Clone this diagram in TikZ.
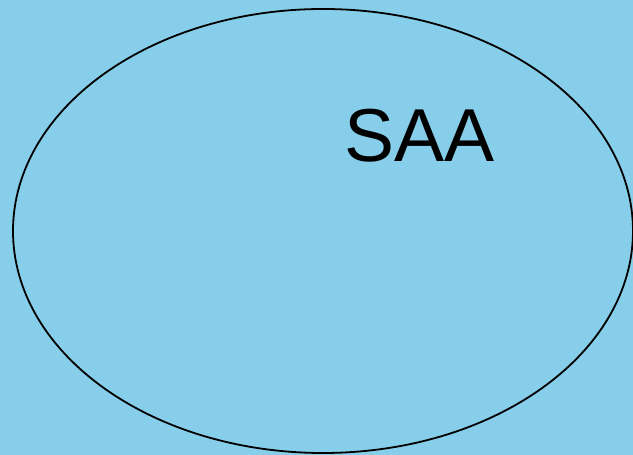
\documentclass[tikz,border=0pt]{standalone}
\usepackage{fontspec}
\setmainfont{Liberation Sans}
\definecolor{bgblue}{HTML}{87CEEB}
\begin{document}
\begin{tikzpicture}[x=1pt,y=1pt,
  setline/.style={draw=black,line width=1.8pt},
  label/.style={font=\fontsize{75}{75}\selectfont,inner sep=0pt,anchor=base}]
\fill[bgblue] (0,0) rectangle (633,455);
\useasboundingbox (0,0) rectangle (633,455);
\draw[setline] (323,224) ellipse [x radius=310, y radius=222];
\node[label] (saa) at (419.5,293) {SAA};
\end{tikzpicture}
\end{document}
